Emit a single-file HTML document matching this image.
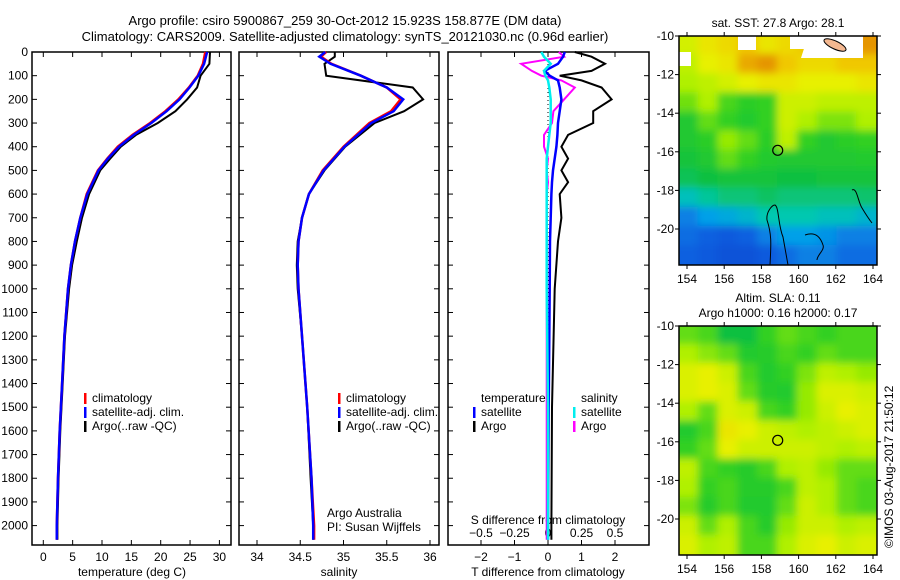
<!DOCTYPE html>
<html><head><meta charset="utf-8"><style>
body{margin:0;background:#fff;}
svg{display:block;font-family:"Liberation Sans",sans-serif;}
text{font-size:12px;fill:#000;}
</style></head><body>
<svg id="c" width="900" height="580" viewBox="0 0 900 580">
<text x="345" y="25" text-anchor="middle" style="font-size:13px">Argo profile: csiro 5900867_259 30-Oct-2012 15.923S 158.877E (DM data)</text>
<text x="345" y="41" text-anchor="middle" style="font-size:13px">Climatology: CARS2009. Satellite-adjusted climatology: synTS_20121030.nc (0.96d earlier)</text>
<text transform="translate(893,548) rotate(-90)">©IMOS 03-Aug-2017 21:50:12</text>
</svg>
<script>
// ---- data ----
const depthTicks=[0,100,200,300,400,500,600,700,800,900,1000,1100,1200,1300,1400,1500,1600,1700,1800,1900,2000];
const tDepth=[0,50,100,150,200,250,300,350,400,450,500,600,700,800,900,1000,1200,1400,1600,1800,2000,2060];
const tClim=[27.6,27.2,26.3,24.8,23.0,20.8,18.2,15.2,12.7,10.9,9.3,7.4,6.3,5.4,4.7,4.2,3.6,3.2,2.8,2.5,2.3,2.3];
const tSat=[27.9,27.4,26.4,24.9,23.2,21.0,18.4,15.4,12.9,11.0,9.4,7.5,6.3,5.4,4.7,4.2,3.6,3.2,2.8,2.5,2.3,2.3];
const tArgo=[28.4,28.3,26.8,26.2,24.5,22.5,19.5,15.8,13.2,11.4,9.7,7.8,6.6,5.7,4.9,4.4,3.7,3.3,2.9,2.6,2.4,2.4];
const tTicks=[0,5,10,15,20,25,30];
const sDepth=[0,20,50,100,150,200,250,300,400,500,600,700,800,900,1000,1200,1500,1800,2000,2060];
const sClim=[34.80,34.74,34.86,35.2,35.5,35.66,35.55,35.3,35.0,34.76,34.6,34.52,34.48,34.47,34.48,34.52,34.58,34.63,34.66,34.66];
const sSat=[34.79,34.72,34.85,35.2,35.5,35.69,35.58,35.32,35.01,34.77,34.6,34.52,34.48,34.47,34.48,34.52,34.58,34.63,34.65,34.65];
const sArgo=[34.9,34.9,34.78,34.8,35.8,35.92,35.7,35.36,35.02,34.78,34.6,34.52,34.47,34.46,34.47,34.52,34.58,34.62,34.65,34.65];
const sTicks=[34,34.5,35,35.5,36];
const dDepth=[0,20,50,80,100,120,150,200,250,300,350,400,450,500,550,600,700,800,1000,1500,2000,2060];
const dtArgo=[0.8,1.3,1.7,1.3,0.35,1.0,1.6,1.9,1.35,1.35,0.6,0.4,0.6,0.4,0.6,0.35,0.4,0.3,0.2,0.12,0.1,0.1];
const dtSat=[0.5,0.45,0.3,-0.1,0.05,0.3,0.35,0.4,0.35,0.3,0.28,0.25,0.2,0.15,0.12,0.1,0.08,0.06,0.05,0.02,0.0,0.0];
const dsArgo=[0.08,0.12,-0.2,-0.12,-0.05,0.1,0.2,0.12,0.04,0.03,-0.03,-0.03,0.0,-0.01,0.0,-0.01,-0.01,-0.01,-0.01,-0.01,-0.01,-0.01];
const dsSat=[-0.05,-0.03,0.02,-0.03,-0.02,0.0,0.01,0.02,0.02,0.02,0.01,0.0,-0.01,-0.01,-0.01,-0.01,-0.01,-0.01,-0.01,0.0,0.0,0.0];
const dtTicks=[-2,-1,0,1,2];
const dsTicks=[-0.5,-0.25,0,0.25,0.5];
const dsTickLabels=["-0.5","-0.25","0","0.25","0.5"];
const lonTicks=[154,156,158,160,162,164];
const latTicks=[-10,-12,-14,-16,-18,-20];
const sstGrid=[
[.75,.8,.82,.85,.8,.82,.85,.85,.88,.9],
[.72,.78,.8,.88,.9,.85,.82,.82,.85,.85],
[.7,.72,.75,.78,.8,.8,.78,.78,.78,.8],
[.65,.7,.62,.58,.6,.74,.74,.72,.72,.72],
[.55,.64,.6,.56,.6,.74,.7,.66,.66,.7],
[.55,.58,.68,.64,.58,.72,.6,.55,.58,.6],
[.52,.55,.64,.6,.56,.55,.55,.55,.55,.56],
[.48,.5,.52,.52,.52,.5,.5,.52,.52,.52],
[.38,.42,.45,.45,.47,.45,.45,.45,.45,.46],
[.25,.3,.32,.35,.4,.4,.4,.38,.38,.35],
[.22,.2,.18,.2,.25,.3,.3,.28,.25,.25],
[.2,.18,.15,.15,.18,.22,.25,.25,.22,.22]];
const slaGrid=[
[.64,.62,.5,.5,.6,.64,.62,.6,.62,.62],
[.7,.67,.64,.56,.57,.62,.6,.64,.62,.62],
[.76,.78,.74,.62,.56,.6,.66,.72,.7,.68],
[.76,.78,.76,.64,.57,.56,.68,.76,.76,.74],
[.7,.64,.76,.74,.62,.6,.68,.74,.78,.76],
[.56,.62,.8,.78,.74,.72,.7,.72,.74,.76],
[.6,.64,.78,.74,.74,.74,.74,.72,.7,.72],
[.72,.62,.6,.57,.62,.7,.72,.68,.64,.64],
[.7,.6,.62,.57,.57,.62,.72,.7,.64,.62],
[.66,.57,.62,.56,.56,.64,.74,.7,.64,.62],
[.74,.64,.7,.62,.57,.68,.74,.74,.7,.72],
[.76,.7,.72,.62,.62,.7,.76,.78,.74,.76]];
const argoLon=158.877, argoLat=-15.923;

const svg=document.getElementById('c');
const NS='http://www.w3.org/2000/svg';
function mk(tag,at,parent){const e=document.createElementNS(NS,tag);for(const k in at)e.setAttribute(k,at[k]);(parent||svg).appendChild(e);return e;}
function txt(x,y,s,anchor,parent){const t=mk('text',{x:x,y:y,'text-anchor':anchor||'start'},parent);t.textContent=s;return t;}
const top0=52, bot=545;
const yD=d=>top0+d*0.2368;

function panel(x0,x1,name){
  const r=mk('rect',{x:x0,y:top0,width:x1-x0,height:bot-top0,fill:'none',stroke:'#000','stroke-width':1.5});
  
  
  depthTicks.forEach(d=>{mk('line',{x1:x0,x2:x0+5,y1:yD(d),y2:yD(d),stroke:'#000'});mk('line',{x1:x1,x2:x1-5,y1:yD(d),y2:yD(d),stroke:'#000'});});
}
function line(xs,ds,fx,color,w,name){
  const p=xs.map((v,i)=>(i?'L':'M')+fx(v).toFixed(1)+','+yD(ds[i]).toFixed(1)).join('');
  const e=mk('path',{d:p,fill:'none',stroke:color,'stroke-width':w});
  
  
}
depthTicks.forEach(d=>{const t=txt(28,yD(d)+4,String(d),'end');});

// Panel 1 temperature
const xT=v=>43.3+v*5.87;
panel(32,231,'temperature-panel');
tTicks.forEach(v=>{mk('line',{x1:xT(v),x2:xT(v),y1:bot,y2:bot-5,stroke:'#000'});mk('line',{x1:xT(v),x2:xT(v),y1:top0,y2:top0+5,stroke:'#000'});txt(xT(v),561,String(v),'middle');});
const tl=txt(132,576,'temperature (deg C)','middle');
line(tArgo,tDepth,xT,'#000',2,'temperature-argo-line');
line(tClim,tDepth,xT,'#f00',2.5,'temperature-climatology-line');
line(tSat,tDepth,xT,'#00f',2.5,'temperature-satellite-line');

// Panel 2 salinity
const xS=v=>257+(v-34)*86.5;
panel(239,439,'salinity-panel');
sTicks.forEach(v=>{mk('line',{x1:xS(v),x2:xS(v),y1:bot,y2:bot-5,stroke:'#000'});mk('line',{x1:xS(v),x2:xS(v),y1:top0,y2:top0+5,stroke:'#000'});txt(xS(v),561,String(v),'middle');});
const sl=txt(339,576,'salinity','middle');
line(sArgo,sDepth,xS,'#000',2,'salinity-argo-line');
line(sClim,sDepth,xS,'#f00',2.5,'salinity-climatology-line');
line(sSat,sDepth,xS,'#00f',2.5,'salinity-satellite-line');
txt(327,517,'Argo Australia');txt(327,531,'PI: Susan Wijffels');

function legend(x,y,items,pref){items.forEach((it,i)=>{const g=mk('g',{});mk('rect',{x:x,y:y+i*14-9,width:2.5,height:11,fill:it[0]},g);txt(x+8,y+i*14,it[1],'start',g);});}
legend(84,402,[['#f00','climatology'],['#00f','satellite-adj. clim.'],['#000','Argo(..raw -QC)']],'temperature');
legend(338,402,[['#f00','climatology'],['#00f','satellite-adj. clim.'],['#000','Argo(..raw -QC)']],'salinity');

// Panel 3 differences
const xDT=v=>548+v*33.5, xDS=v=>548+v*134;
panel(448,649,'difference-panel');
dtTicks.forEach(v=>{mk('line',{x1:xDT(v),x2:xDT(v),y1:bot,y2:bot-5,stroke:'#000'});mk('line',{x1:xDT(v),x2:xDT(v),y1:top0,y2:top0+5,stroke:'#000'});txt(xDT(v),561,String(v).replace('-','−'),'middle');});
dsTicks.forEach((v,i)=>{txt(xDS(v),537,dsTickLabels[i].replace('-','−'),'middle');});
txt(548,524,'S difference from climatology','middle');
const dl=txt(548,576,'T difference from climatology','middle');
mk('line',{x1:548,x2:548,y1:top0,y2:bot,stroke:'#000','stroke-dasharray':'1,3'});
line(dtArgo,dDepth,xDT,'#000',2,'t-diff-argo-line');
line(dsArgo,dDepth,xDS,'#f0f',2,'s-diff-argo-line');
line(dtSat,dDepth,xDT,'#00f',2.5,'t-diff-satellite-line');
line(dsSat,dDepth,xDS,'#0ee',2.5,'s-diff-satellite-line');
txt(481,402,'temperature');txt(581,402,'salinity');
legend(473,416,[['#00f','satellite'],['#000','Argo']],'t-diff');
legend(573,416,[['#0ee','satellite'],['#f0f','Argo']],'s-diff');

// maps
const stops=[[0,[0,40,190]],[0.2,[16,96,224]],[0.3,[0,160,232]],[0.4,[0,200,176]],[0.5,[16,192,64]],[0.6,[48,208,32]],[0.7,[176,240,0]],[0.78,[232,240,0]],[0.85,[240,200,0]],[0.92,[224,128,0]],[1,[200,60,0]]];
function cmap(v){for(let i=1;i<stops.length;i++){if(v<=stops[i][0]){const a=stops[i-1],b=stops[i],f=(v-a[0])/(b[0]-a[0]);return 'rgb('+a[1].map((c,k)=>Math.round(c+(b[1][k]-c)*f)).join(',')+')';}}return 'rgb(200,60,0)';}
const defs=mk('defs',{});
const flt=mk('filter',{id:'bl',x:'-5%',y:'-5%',width:'110%',height:'110%'},defs);mk('feGaussianBlur',{stdDeviation:4},flt);
function map(y0,grid,name,titles){
  const x0=679,x1=877,y1=y0+229;
  const xL=l=>687+(l-154)*18.6;
  const cp=mk('clipPath',{id:'cp'+name},defs);mk('rect',{x:x0,y:y0,width:x1-x0,height:y1-y0},cp);
  const g=mk('g',{'clip-path':'url(#cp'+name+')'});
  
  
  const gi=mk('g',{filter:'url(#bl)'},g);
  const nr=grid.length,nc=grid[0].length,cw=(x1-x0)/nc,ch=(y1-y0)/nr;
  mk('rect',{x:x0-10,y:y0-10,width:x1-x0+20,height:y1-y0+20,fill:cmap(grid[5][5])},gi);
  grid.forEach((row,r)=>row.forEach((v,c)=>{
    const ex0=c===0?-10:-1, ey0=r===0?-10:-1, ew=c===nc-1?12:2, eh=r===nr-1?12:2;
    mk('rect',{x:x0+c*cw+ex0,y:y0+r*ch+ey0,width:cw+ew-ex0-1,height:ch+eh-ey0-1,fill:cmap(v)},gi);}));
  if(name==='sst'){mk('path',{d:'M738 36h18v14h-18zM790 36h30v13h-30zM808 36h55v22h-62zM679 52h12v14h-12z',fill:'#fff'},g);}
  mk('ellipse',{cx:835,cy:45,rx:12,ry:4,fill:'#f4b890',stroke:'#000',transform:'rotate(25 835 45)'},g);
  mk('path',{d:'M770 265c1-20 2-30 -3-45 -1-8 5-15 8-15 4 2 3 20 8 32l5 28M805 235c12-4 16 4 18 10 2 5 -6 10 -6 15M852 190c5-3 6 12 10 18 3 5 6 10 10 15',fill:'none',stroke:'#000'},g);
  mk('rect',{x:x0,y:y0,width:x1-x0,height:y1-y0,fill:'none',stroke:'#000','stroke-width':1.5});
  lonTicks.forEach(l=>{mk('line',{x1:xL(l),x2:xL(l),y1:y1,y2:y1+4,stroke:'#000'});mk('line',{x1:xL(l),x2:xL(l),y1:y0,y2:y0-4,stroke:'#000'});txt(xL(l),y1+18,String(l),'middle');});
  latTicks.forEach(l=>{const yy=y0+(-10-l)*19.3;mk('line',{x1:x0-4,x2:x0,y1:yy,y2:yy,stroke:'#000'});mk('line',{x1:x1,x2:x1+4,y1:yy,y2:yy,stroke:'#000'});txt(x0-5,yy+4,String(l),'end');});
  const ax=mk('circle',{cx:xL(argoLon),cy:y0+(-10-argoLat)*19.3,r:5,fill:'none',stroke:'#000','stroke-width':1.2});
  
  
  titles.forEach((t,i)=>{const e=txt(778,y0-24+i*15+(titles.length===1?15:0),t,'middle');});
}
map(36,sstGrid,'sst',['sat. SST: 27.8 Argo: 28.1']);
map(326,slaGrid,'sla',['Altim. SLA: 0.11','Argo h1000: 0.16 h2000: 0.17']);
</script>
</body></html>
